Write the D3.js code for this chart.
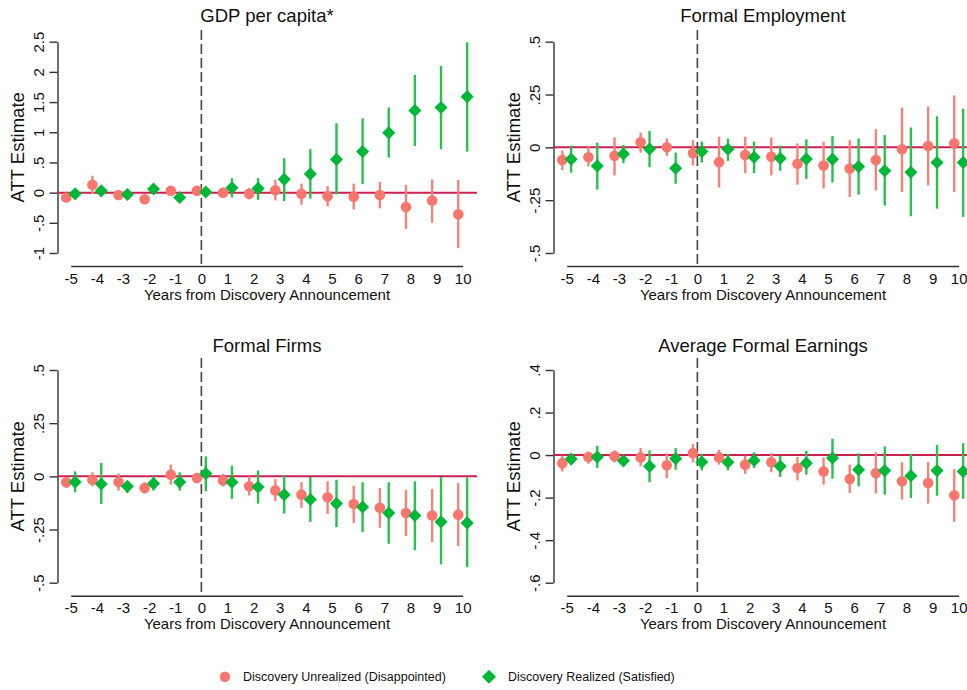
<!DOCTYPE html>
<html>
<head>
<meta charset="utf-8">
<script src="https://cdn.jsdelivr.net/npm/d3@7"></script>
<style>
  body { margin: 0; background: #fff; }
  text { font-family: "Liberation Sans", Arial, sans-serif; fill: #111; }
</style>
</head>
<body>
<svg></svg>
<script>
const w = 967;
const h = 690;

// event time
const years = [-5, -4, -3, -2, -1, 0, 1, 2, 3, 4, 5, 6, 7, 8, 9, 10];

// GDP per capita*
const gdpRed     = [-0.08, 0.13, -0.04, -0.11, 0.03, 0.03, 0.00, -0.02, 0.04, -0.02, -0.06, -0.07, -0.04, -0.24, -0.13, -0.36];
const gdpRedLo   = [-0.12, -0.02, -0.07, -0.15, 0.00, 0.00, -0.03, -0.11, -0.13, -0.20, -0.23, -0.28, -0.26, -0.60, -0.50, -0.92];
const gdpRedHi   = [-0.03, 0.28, 0.00, -0.07, 0.07, 0.06, 0.03, 0.08, 0.21, 0.15, 0.11, 0.15, 0.18, 0.13, 0.22, 0.21];
const gdpGreen   = [-0.02, 0.03, -0.03, 0.06, -0.08, 0.01, 0.08, 0.07, 0.22, 0.31, 0.55, 0.68, 0.99, 1.36, 1.41, 1.59];
const gdpGreenLo = [-0.05, 0.00, -0.06, 0.03, -0.11, -0.02, -0.08, -0.12, -0.14, -0.10, -0.03, 0.14, 0.58, 0.77, 0.72, 0.68];
const gdpGreenHi = [0.01, 0.06, 0.00, 0.09, -0.05, 0.04, 0.24, 0.24, 0.57, 0.72, 1.15, 1.23, 1.41, 1.95, 2.10, 2.49];

// Formal Employment
const empRed     = [-0.060, -0.047, -0.040, 0.024, 0.000, -0.028, -0.070, -0.036, -0.044, -0.078, -0.086, -0.100, -0.060, -0.009, 0.006, 0.019];
const empRedLo   = [-0.107, -0.090, -0.133, -0.025, -0.040, -0.086, -0.190, -0.122, -0.133, -0.177, -0.194, -0.235, -0.204, -0.212, -0.180, -0.212];
const empRedHi   = [-0.015, 0.003, 0.047, 0.070, 0.042, 0.034, 0.050, 0.050, 0.047, 0.019, 0.027, 0.034, 0.086, 0.188, 0.194, 0.246];
const empGreen   = [-0.056, -0.088, -0.031, -0.008, -0.099, -0.020, -0.009, -0.047, -0.052, -0.055, -0.056, -0.091, -0.111, -0.118, -0.072, -0.072];
const empGreenLo = [-0.120, -0.200, -0.075, -0.094, -0.172, -0.072, -0.064, -0.122, -0.111, -0.149, -0.166, -0.224, -0.276, -0.326, -0.290, -0.329];
const empGreenHi = [0.008, 0.022, 0.011, 0.078, -0.025, 0.027, 0.042, 0.027, 0.008, 0.038, 0.053, 0.042, 0.058, 0.094, 0.147, 0.183];

// Formal Firms
const firmRed     = [-0.028, -0.016, -0.027, -0.055, 0.008, -0.008, -0.019, -0.047, -0.066, -0.086, -0.098, -0.130, -0.148, -0.172, -0.184, -0.180];
const firmRedLo   = [-0.055, -0.047, -0.067, -0.081, -0.039, -0.028, -0.047, -0.090, -0.117, -0.148, -0.177, -0.219, -0.242, -0.281, -0.309, -0.328];
const firmRedHi   = [-0.008, 0.019, 0.013, -0.028, 0.055, 0.013, 0.011, 0.000, -0.013, -0.027, -0.023, -0.044, -0.055, -0.063, -0.059, -0.031];
const firmGreen   = [-0.027, -0.036, -0.047, -0.034, -0.027, 0.013, -0.028, -0.050, -0.086, -0.109, -0.128, -0.144, -0.172, -0.184, -0.214, -0.219];
const firmGreenLo = [-0.075, -0.130, -0.078, -0.067, -0.067, -0.070, -0.106, -0.128, -0.175, -0.214, -0.239, -0.261, -0.317, -0.347, -0.414, -0.427];
const firmGreenHi = [0.023, 0.063, -0.023, 0.000, 0.019, 0.094, 0.050, 0.028, 0.005, -0.003, -0.016, -0.028, -0.028, -0.023, -0.003, -0.005];

// Average Formal Earnings
const earnRed     = [-0.038, -0.009, -0.006, -0.011, -0.048, 0.009, -0.011, -0.045, -0.034, -0.061, -0.077, -0.113, -0.084, -0.123, -0.131, -0.189];
const earnRedLo   = [-0.077, -0.041, -0.034, -0.053, -0.108, -0.034, -0.045, -0.088, -0.081, -0.119, -0.139, -0.178, -0.181, -0.209, -0.228, -0.314];
const earnRedHi   = [-0.003, 0.017, 0.022, 0.033, 0.009, 0.053, 0.025, -0.003, 0.009, -0.009, -0.011, -0.045, 0.013, -0.034, -0.033, -0.066];
const earnGreen   = [-0.019, -0.009, -0.027, -0.053, -0.017, -0.033, -0.034, -0.025, -0.053, -0.038, -0.014, -0.069, -0.073, -0.097, -0.073, -0.077];
const earnGreenLo = [-0.038, -0.061, -0.050, -0.128, -0.069, -0.072, -0.072, -0.061, -0.103, -0.092, -0.111, -0.147, -0.186, -0.202, -0.191, -0.205];
const earnGreenHi = [0.002, 0.044, -0.003, 0.022, 0.033, 0.006, 0.006, 0.013, -0.003, 0.020, 0.077, 0.009, 0.041, 0.006, 0.048, 0.056];

// y tick labels (Stata style)
const gdpTicks  = [-1, -0.5, 0, 0.5, 1, 1.5, 2, 2.5];
const gdpLabels = ['-1', '-.5', '0', '.5', '1', '1.5', '2', '2.5'];
const quarterTicks  = [-0.5, -0.25, 0, 0.25, 0.5];
const quarterLabels = ['-.5', '-.25', '0', '.25', '.5'];
const earnTicks  = [-0.6, -0.4, -0.2, 0, 0.2, 0.4];
const earnLabels = ['-.6', '-.4', '-.2', '0', '.2', '.4'];

const legendLabels = ['Discovery Unrealized (Disappointed)', 'Discovery Realized (Satisfied)'];

const redCol = '#f8766d';
const redLine = '#f7827a';
const greenCol = '#00b838';
const greenLine = '#27c24c';
const axisCol = '#333';

const panels = [
    { title: 'GDP per capita*', dx: 0, row: 0, ticks: gdpTicks, labels: gdpLabels,
      red: [gdpRed, gdpRedLo, gdpRedHi], green: [gdpGreen, gdpGreenLo, gdpGreenHi] },
    { title: 'Formal Employment', dx: 496, row: 0, ticks: quarterTicks, labels: quarterLabels,
      red: [empRed, empRedLo, empRedHi], green: [empGreen, empGreenLo, empGreenHi] },
    { title: 'Formal Firms', dx: 0, row: 1, ticks: quarterTicks, labels: quarterLabels,
      red: [firmRed, firmRedLo, firmRedHi], green: [firmGreen, firmGreenLo, firmGreenHi] },
    { title: 'Average Formal Earnings', dx: 496, row: 1, ticks: earnTicks, labels: earnLabels,
      red: [earnRed, earnRedLo, earnRedHi], green: [earnGreen, earnGreenLo, earnGreenHi] }
];

// row geometry
const rows = [
    { yBottom: 253, yTop: 41.7, xAxisY: 266, titleY: 21.6, dashTop: 30, xTitleY: 300 },
    { yBottom: 582.7, yTop: 370, xAxisY: 595.7, titleY: 351.6, dashTop: 358, xTitleY: 629 }
];

const svg = d3.select('svg')
    .attr('width', w)
    .attr('height', h);

const diamond = d3.symbol().type(d3.symbolSquare).size(86);

panels.forEach(p => {
    const r = rows[p.row];
    const g = svg.append('g').attr('transform', 'translate(' + p.dx + ',0)');
    const axisX = 57.5;

    const x = d3.scaleLinear()
        .domain([-5, 10])
        .range([70.7, 462.7]);
    const y = d3.scaleLinear()
        .domain([p.ticks[0], p.ticks[p.ticks.length - 1]])
        .range([r.yBottom, r.yTop]);

    // title
    g.append('text')
        .attr('x', 267)
        .attr('y', r.titleY)
        .attr('text-anchor', 'middle')
        .style('font-size', '18.5px')
        .text(p.title);

    // y axis
    const yAxis = d3.axisLeft(y)
        .tickValues(p.ticks)
        .tickFormat((d, i) => p.labels[i])
        .tickSize(8)
        .tickSizeOuter(0);
    const ya = g.append('g')
        .attr('transform', 'translate(' + axisX + ',0)')
        .call(yAxis);
    ya.select('.domain').attr('stroke', axisCol).attr('stroke-width', 1.4);
    ya.selectAll('.tick line').attr('stroke', axisCol).attr('stroke-width', 1.4);
    ya.selectAll('.tick text')
        .attr('transform', 'rotate(-90)')
        .attr('x', 0)
        .attr('y', -14)
        .attr('dy', 0)
        .attr('text-anchor', 'middle')
        .style('font-size', '15px')
        .style('font-family', '"Liberation Sans", Arial, sans-serif')
        .attr('fill', '#111');

    // y title
    g.append('text')
        .attr('transform', 'translate(' + 24 + ',' + ((r.yBottom + r.yTop) / 2) + ') rotate(-90)')
        .attr('text-anchor', 'middle')
        .style('font-size', '18.5px')
        .text('ATT Estimate');

    // x axis (plain hyphen minus, like the original)
    const xAxis = d3.axisBottom(x)
        .tickValues(years)
        .tickFormat(d => String(d))
        .tickSize(0)
        .tickSizeOuter(0)
        .tickPadding(7);
    const xa = g.append('g')
        .attr('transform', 'translate(0,' + r.xAxisY + ')')
        .call(xAxis);
    xa.select('.domain').attr('stroke', axisCol).attr('stroke-width', 1.4);
    xa.selectAll('.tick text')
        .style('font-size', '15px')
        .style('font-family', '"Liberation Sans", Arial, sans-serif')
        .attr('fill', '#111');

    g.append('text')
        .attr('x', 267)
        .attr('y', r.xTitleY)
        .attr('text-anchor', 'middle')
        .style('font-size', '15px')
        .text('Years from Discovery Announcement');

    // zero line
    g.append('line')
        .attr('x1', axisX)
        .attr('x2', p.dx === 0 ? 477 : 480)
        .attr('y1', y(0))
        .attr('y2', y(0))
        .attr('stroke', '#cc2050')
        .attr('stroke-width', 2);

    // announcement line
    g.append('line')
        .attr('x1', x(0))
        .attr('x2', x(0))
        .attr('y1', r.dashTop)
        .attr('y2', r.xAxisY)
        .attr('stroke', '#444')
        .attr('stroke-width', 1.6)
        .attr('stroke-dasharray', '10,4');

    // series: red then green, offset around the year
    const series = [
        { vals: p.red, off: -0.17, line: redLine, fill: redCol, shape: 'circle' },
        { vals: p.green, off: 0.17, line: greenLine, fill: greenCol, shape: 'diamond' }
    ];
    series.forEach(s => {
        const [est, lo, hi] = s.vals;
        const rowsData = years.map((yr, i) => ({ yr: yr, est: est[i], lo: lo[i], hi: hi[i] }));
        const sg = g.append('g');
        sg.selectAll('line.ci')
            .data(rowsData)
            .enter()
            .append('line')
            .attr('class', 'ci')
            .attr('x1', d => x(d.yr + s.off))
            .attr('x2', d => x(d.yr + s.off))
            .attr('y1', d => y(d.lo))
            .attr('y2', d => y(d.hi))
            .attr('stroke', s.line)
            .attr('stroke-width', 2.4);
        if (s.shape === 'circle') {
            sg.selectAll('circle')
                .data(rowsData)
                .enter()
                .append('circle')
                .attr('cx', d => x(d.yr + s.off))
                .attr('cy', d => y(d.est))
                .attr('r', 5.3)
                .attr('fill', s.fill);
        } else {
            sg.selectAll('path.pt')
                .data(rowsData)
                .enter()
                .append('path')
                .attr('class', 'pt')
                .attr('d', diamond)
                .attr('transform', d => 'translate(' + x(d.yr + s.off) + ',' + y(d.est) + ') rotate(45)')
                .attr('fill', s.fill);
        }
    });
});

// legend
const lg = svg.append('g');
lg.append('circle')
    .attr('cx', 225)
    .attr('cy', 676.7)
    .attr('r', 5.2)
    .attr('fill', redCol);
lg.append('text')
    .attr('x', 243)
    .attr('y', 681.2)
    .style('font-size', '12.5px')
    .text(legendLabels[0]);
lg.append('path')
    .attr('d', d3.symbol().type(d3.symbolSquare).size(98)())
    .attr('transform', 'translate(489,676.7) rotate(45)')
    .attr('fill', greenCol);
lg.append('text')
    .attr('x', 508)
    .attr('y', 681.2)
    .style('font-size', '12.5px')
    .text(legendLabels[1]);
</script>
</body>
</html>
